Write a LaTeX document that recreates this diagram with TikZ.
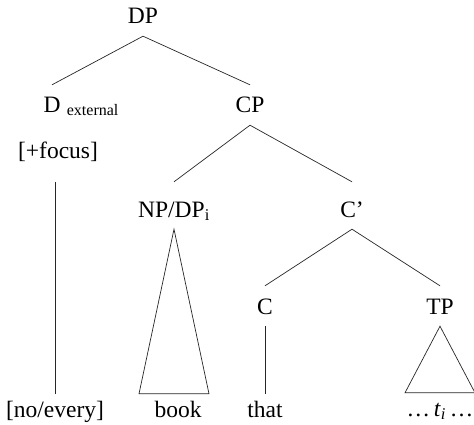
\documentclass[tikz,border=0pt]{standalone}
\usepackage{fontspec}
\setmainfont{Liberation Serif}
\usetikzlibrary{calc}

\begin{document}
\begin{tikzpicture}[x=1pt,y=-1pt,
  font=\fontsize{23.5}{28}\selectfont,
  cat/.style={anchor=base,inner xsep=0pt,inner ysep=12pt,text height=16pt,text depth=0pt},
  leaf/.style={anchor=base,inner xsep=0pt,inner ysep=7pt,text height=16pt,text depth=0pt},
  sub/.style={anchor=base west,inner sep=0pt,font=\fontsize{16}{18}\selectfont},
  branch/.style={line width=0.7pt,black!85}]
  \useasboundingbox (0,0) rectangle (474,425);

  % labels
  \node[cat] (dp) at (143,24) {DP};
  \node[cat] (dext) at (52,113) {D};
  \node[sub] (dsub) at ([xshift=6pt,yshift=-3pt]dext.base east) {external};
  \node[cat,text depth=5pt,inner ysep=19pt] (focus) at (58,158) {[+focus]};
  \node[cat] (cp) at (250,113) {CP};
  \node[cat,text height=23pt] (npdp) at (174,217) {NP/DP\textsubscript{i}};
  \node[cat,text height=23pt] (cbar) at (352,217) {C’};
  \node[cat] (c) at (265,314) {C};
  \node[cat] (tp) at (440,314) {TP};

  % words
  \node[leaf] (noevery) at (55,417) {[no/every]};
  \node[leaf] (book) at (178,417) {book};
  \node[leaf] (that) at (265,417) {that};
  \node[leaf] (ti) at (440,416) {\ldots\,\textit{t}\textsubscript{\textit{i}}\,\ldots};

  % branches
  \draw[branch] (dp.south) -- (dext.north);
  \draw[branch] (dp.south) -- (cp.north);
  \draw[branch] (cp.south) -- (npdp.north);
  \draw[branch] (cp.south) -- (cbar.north);
  \draw[branch] (cbar.south) -- (c.north);
  \draw[branch] (cbar.south) -- (tp.north);
  \draw[branch] (focus.south -| noevery.north) -- (noevery.north);
  \draw[branch] (c.south) -- (that.north);

  % triangles
  \draw[branch] (npdp.south) -- ($(npdp.south |- book.north)+(-35,0)$)
    -- ($(npdp.south |- book.north)+(35,0)$) -- cycle;
  \draw[branch] (tp.south) -- ($(tp.south |- ti.north)+(-35,0)$)
    -- ($(tp.south |- ti.north)+(35,0)$) -- cycle;
\end{tikzpicture}
\end{document}
